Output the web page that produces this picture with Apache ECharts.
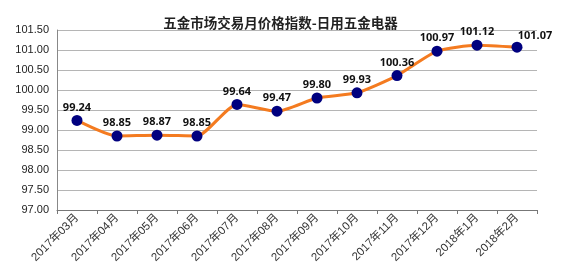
<!DOCTYPE html>
<html><head><meta charset="utf-8">
<script src="https://cdn.jsdelivr.net/npm/echarts@6/dist/echarts.min.js"></script>
<style>html,body{margin:0;padding:0;background:#fff}#c{width:561px;height:277px}</style>
</head><body><div id="c"></div>
<script>
const title = '五金市场交易月价格指数-日用五金电器';
const categories = ['2017年03月','2017年04月','2017年05月','2017年06月','2017年07月','2017年08月','2017年09月','2017年10月','2017年11月','2017年12月','2018年1月','2018年2月'];
const values = [99.24, 98.85, 98.87, 98.85, 99.64, 99.47, 99.80, 99.93, 100.36, 100.97, 101.12, 101.07];
const yMin = 97, yMax = 101.5, yStep = 0.5;

const lastIdx = values.length - 1;
const seriesData = values.map((v, i) => i === lastIdx ? {value: v, label: {offset: [18, 2]}} : v);

const chart = echarts.init(document.getElementById('c'));
chart.setOption({
  animation: false,
  title: {text: title, left: 'center', top: 11, textStyle: {fontFamily: 'Noto Sans CJK SC', fontSize: 13.5, fontWeight: 'bold', color: '#222'}},
  grid: {left: 57, right: 24, top: 30, bottom: 67},
  xAxis: {
    type: 'category', data: categories, boundaryGap: true,
    axisLine: {lineStyle: {color: '#777', width: 1}},
    axisTick: {show: true, length: 4, lineStyle: {color: '#777'}, alignWithLabel: false},
    axisLabel: {rotate: 45, fontSize: 11.5, color: '#333', fontFamily: 'Liberation Sans, Noto Sans CJK SC', margin: 6, interval: 0}
  },
  yAxis: {
    type: 'value', min: yMin, max: yMax, interval: yStep,
    axisLine: {show: true, lineStyle: {color: '#888'}},
    axisTick: {show: false},
    splitLine: {lineStyle: {color: '#b5b5b5'}},
    axisLabel: {formatter: v => v.toFixed(2), fontSize: 11, color: '#222', fontFamily: 'Liberation Sans', margin: 8}
  },
  series: [{
    type: 'line', data: seriesData, smooth: 0.2,
    lineStyle: {color: '#F47B20', width: 3},
    itemStyle: {color: '#00007F'},
    symbol: 'circle', symbolSize: 11,
    label: {show: true, position: 'top', distance: 2, formatter: p => p.value.toFixed(2), fontSize: 11, fontWeight: 'bold', color: '#111', fontFamily: 'Noto Sans'}
  }]
});
</script></body></html>
